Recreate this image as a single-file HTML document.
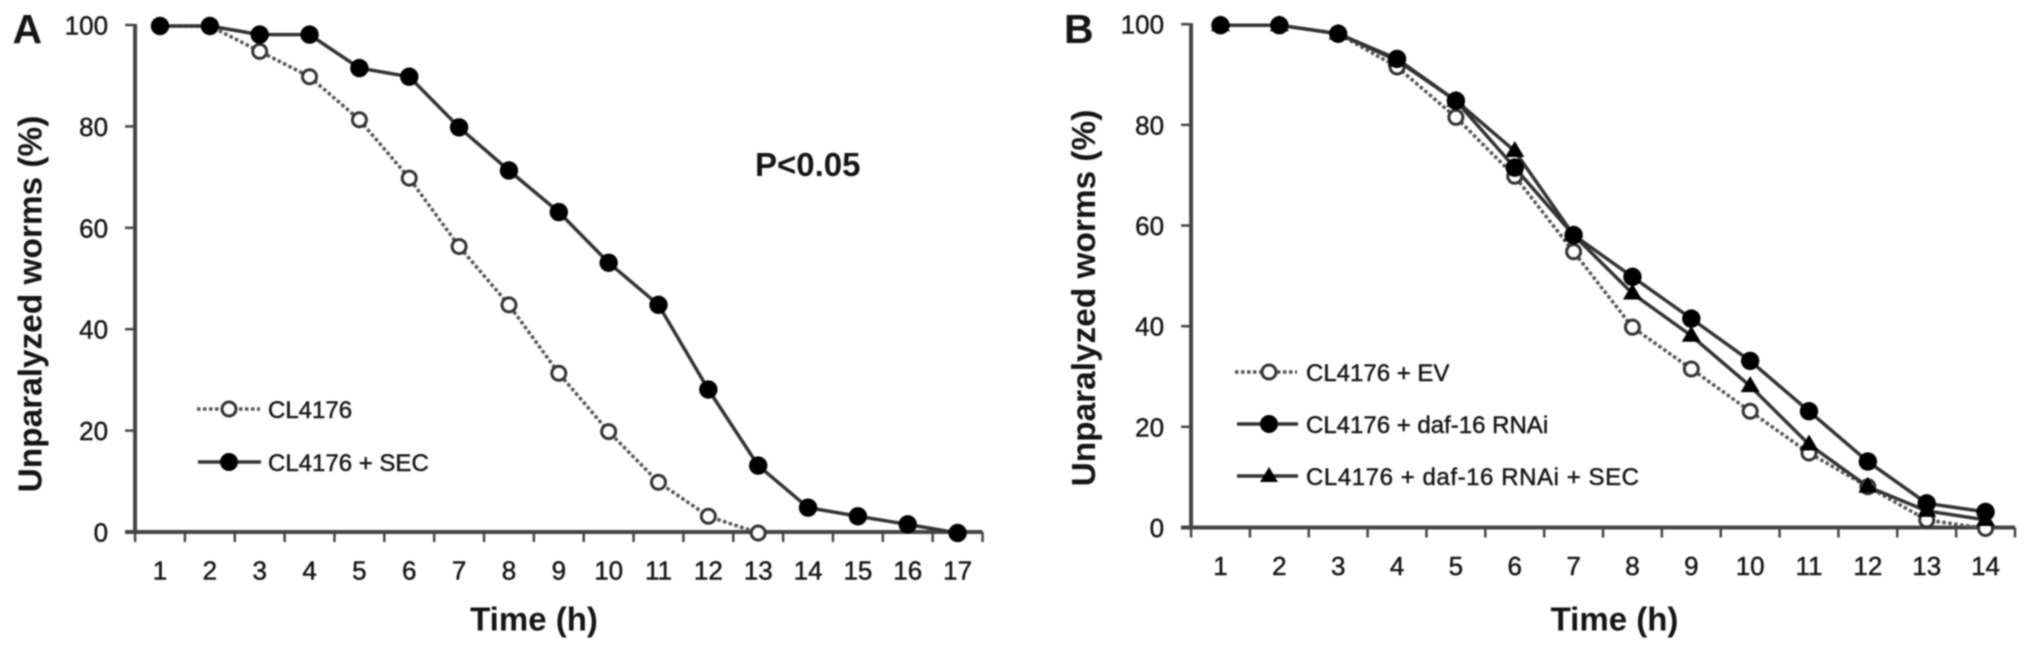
<!DOCTYPE html>
<html>
<head>
<meta charset="utf-8">
<title>Paralysis time course</title>
<style>
html,body{margin:0;padding:0;background:#fff;width:2031px;height:652px;overflow:hidden}
svg{display:block;filter:blur(0.85px)}
text{font-family:"Liberation Sans",sans-serif;fill:#151515}
.tick{font-size:26px;stroke:#151515;stroke-width:0.45px}
.leg{font-size:24px;stroke:#151515;stroke-width:0.45px}
.title{font-size:33.4px;font-weight:bold}
.xtitle{font-size:33px;font-weight:bold}
.panel{font-size:41px;font-weight:bold}
</style>
</head>
<body>
<svg id="fig" width="2031" height="652" viewBox="0 0 2031 652" xmlns="http://www.w3.org/2000/svg">
  <rect x="0" y="0" width="2031" height="652" fill="#fff"/>
  <g id="panelA"></g>
  <g id="panelB"></g>

  <text class="panel" x="12.5" y="43">A</text>
  <text class="panel" x="1064" y="43">B</text>
  <text x="755" y="176" style="font-size:33px;font-weight:bold">P&lt;0.05</text>

  <text class="title" text-anchor="middle" transform="translate(41.5,304) rotate(-90)">Unparalyzed worms (%)</text>
  <text class="xtitle" text-anchor="middle" x="534" y="630.5">Time (h)</text>
  <text class="title" text-anchor="middle" transform="translate(1095,298) rotate(-90)">Unparalyzed worms (%)</text>
  <text class="xtitle" text-anchor="middle" x="1614.5" y="630.5">Time (h)</text>

  <g>
    <g>
      <line x1="197" y1="409" x2="260" y2="409" stroke="#555" stroke-width="3.5" stroke-dasharray="3.5 2.5"/>
      <circle cx="229" cy="409" r="7" fill="#fff" stroke="#333" stroke-width="3"/>
      <text class="leg" x="268" y="418">CL4176</text>
    </g>
    <g>
      <line x1="198" y1="462" x2="261" y2="462" stroke="#333" stroke-width="3.5"/>
      <circle cx="229" cy="462" r="9" fill="#000"/>
      <text class="leg" x="268" y="471">CL4176 + SEC</text>
    </g>
  </g>
  <g>
    <g>
      <line x1="1235" y1="372" x2="1297" y2="372" stroke="#555" stroke-width="3.5" stroke-dasharray="3.5 2.5"/>
      <circle cx="1269" cy="372" r="7" fill="#fff" stroke="#333" stroke-width="3"/>
      <text class="leg" x="1306" y="381">CL4176 + EV</text>
    </g>
    <g>
      <line x1="1237" y1="424" x2="1298" y2="424" stroke="#333" stroke-width="3.5"/>
      <circle cx="1269" cy="424" r="9" fill="#000"/>
      <text class="leg" x="1306" y="433">CL4176 + daf-16 RNAi</text>
    </g>
    <g>
      <line x1="1237" y1="476" x2="1298" y2="476" stroke="#333" stroke-width="3.5"/>
      <polygon points="1269,467 1278,482 1260,482" fill="#000"/>
      <text class="leg" x="1306" y="485" textLength="333" lengthAdjust="spacing">CL4176 + daf-16 RNAi + SEC</text>
    </g>
  </g>
</svg>
<script>
var yTicks = [0, 20, 40, 60, 80, 100];
var timesA = [1,2,3,4,5,6,7,8,9,10,11,12,13,14,15,16,17];
var timesB = [1,2,3,4,5,6,7,8,9,10,11,12,13,14];
var cl4176 = [100,100,95,90,81.5,70,56.5,45,31.5,20,10,3.3,0];
var cl4176Sec = [100,100,98.3,98.3,91.7,90,80,71.5,63.3,53.3,45,28.3,13.3,5,3.3,1.7,0];
var ev = [100,100,98.3,91.7,81.7,70,55,40,31.7,23.3,15,8.3,1.7,0];
var daf16 = [100,100,98.3,93.3,85,71.7,58.3,50,41.7,33.3,23.3,13.3,5,3.3];
var daf16Sec = [100,100,98.3,93,85,75,58.3,46.7,38.3,28.3,16.7,8.3,3.5,1.7];

var NS = 'http://www.w3.org/2000/svg';
function make(parent, tag, attrs) {
  var el = document.createElementNS(NS, tag);
  for (var k in attrs) el.setAttribute(k, attrs[k]);
  parent.appendChild(el);
  return el;
}

function drawPanel(root, times, cfg, seriesList) {
  function xScale(t) { return cfg.x0 + (t - 1) * cfg.dx; }
  function yScale(v) { return cfg.y0 - v * cfg.dy; }
  function yMark(v) { return yScale(v) + cfg.markShift; }
  var axisLeft = xScale(0.5);
  var axisRight = xScale(times.length + 0.5);

  var yAxis = make(root, 'line', {x1: axisLeft, y1: yScale(100) - 1, x2: axisLeft, y2: yScale(0), stroke: '#444', 'stroke-width': 4});
  
  
  var xAxis = make(root, 'line', {x1: axisLeft - 10, y1: yScale(0), x2: axisRight, y2: yScale(0), stroke: '#444', 'stroke-width': 4});
  
  

  yTicks.forEach(function (v) {
    var tick = make(root, 'line', {x1: axisLeft - 10, y1: yScale(v), x2: axisLeft, y2: yScale(v), stroke: '#444', 'stroke-width': 2.5});
    
    
    var label = make(root, 'text', {'class': 'tick', x: axisLeft - 27, y: yScale(v) + 9.5, 'text-anchor': 'end'});
    label.textContent = String(v);
    
    
  });

  for (var i = 0; i <= times.length; i++) {
    var tx = xScale(i + 0.5);
    var xt = make(root, 'line', {x1: tx, y1: yScale(0), x2: tx, y2: yScale(0) + 10, stroke: '#444', 'stroke-width': 2.5});
    
    
  }
  times.forEach(function (t) {
    var label = make(root, 'text', {'class': 'tick', x: xScale(t), y: yScale(0) + 47.5, 'text-anchor': 'middle'});
    label.textContent = String(t);
    
    
  });

  seriesList.forEach(function (s) {
    var group = make(root, 'g', {});
    
    
    var pts = s.values.map(function (v, i) { return xScale(times[i]) + ',' + yMark(v); }).join(' ');
    var line = make(group, 'polyline', {points: pts, fill: 'none',
      stroke: s.kind === 'open' ? '#555' : '#333',
      'stroke-width': 3.5,
      'stroke-dasharray': s.kind === 'open' ? '3.5 2.5' : 'none'});
    
    
    s.values.forEach(function (v, i) {
      var px = xScale(times[i]), py = yMark(v), mark;
      if (s.kind === 'open') {
        mark = make(group, 'circle', {cx: px, cy: py, r: 7, fill: '#fff', stroke: '#333', 'stroke-width': 3});
      } else if (s.kind === 'filled') {
        mark = make(group, 'circle', {cx: px, cy: py, r: 9.2, fill: '#000'});
      } else {
        mark = make(group, 'polygon', {points: px + ',' + (py - 10) + ' ' + (px + 9.5) + ',' + (py + 6) + ' ' + (px - 9.5) + ',' + (py + 6), fill: '#000'});
      }
      
      
    });
  });
}

drawPanel(document.getElementById('panelA'), timesA, {x0: 160, dx: 49.85, y0: 532, dy: 5.07, markShift: 1}, [
  {name: 'series-cl4176', kind: 'open', values: cl4176},
  {name: 'series-cl4176-sec', kind: 'filled', values: cl4176Sec}
]);
drawPanel(document.getElementById('panelB'), timesB, {x0: 1220.5, dx: 58.85, y0: 527.5, dy: 5.033, markShift: 1}, [
  {name: 'series-ev', kind: 'open', values: ev},
  {name: 'series-daf-16-sec', kind: 'triangle', values: daf16Sec},
  {name: 'series-daf-16', kind: 'filled', values: daf16}
]);
</script>
</body>
</html>
